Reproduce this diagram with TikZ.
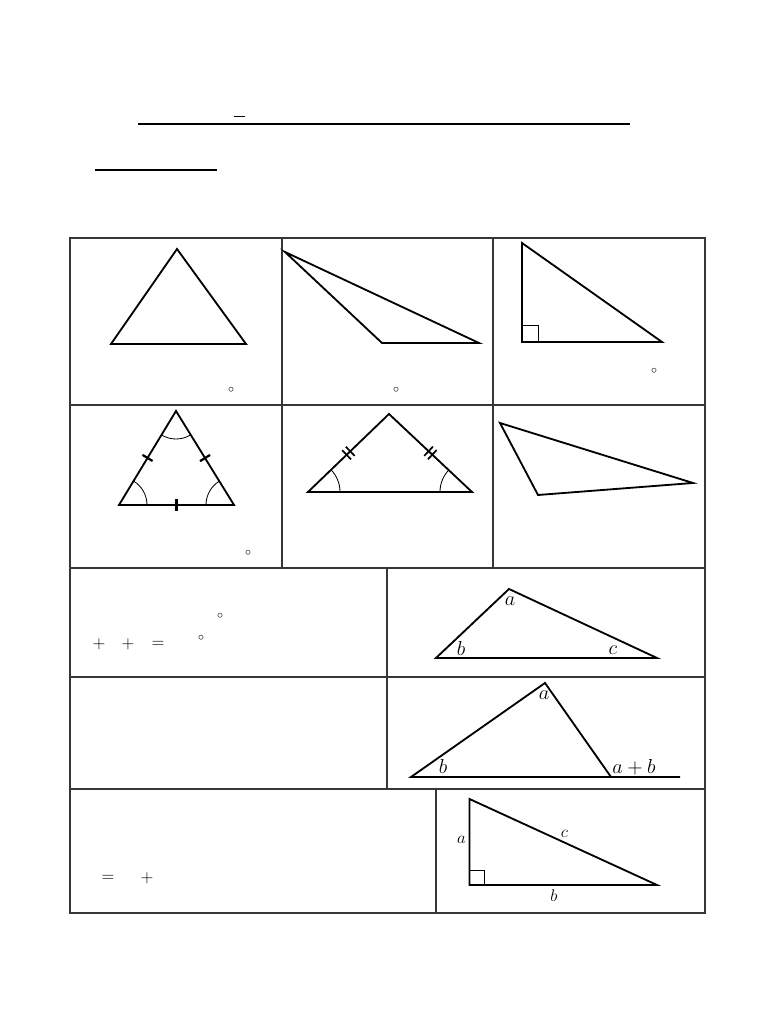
\documentclass[tikz,border=0pt]{standalone}
\usetikzlibrary{angles, calc, decorations.markings}
\definecolor{gridColor}{RGB}{55,55,55}
\definecolor{lineColor}{RGB}{0,0,0}

\begin{document}
\begin{tikzpicture}[
    x=0.025cm, y=0.025cm,
    tri/.style={draw=lineColor, line width=1.3pt, line join=miter},
    grid/.style={draw=gridColor, line width=0.9pt},
    arcmark/.style={draw=lineColor, line width=0.6pt},
    onetick/.style={postaction={decorate, decoration={markings, mark=at position 0.5 with {\draw[line width=1.6pt] (0,-4.2pt) -- (0,4.2pt);}}}},
    twotick/.style={postaction={decorate, decoration={markings, mark=at position 0.5 with {\draw[line width=1.2pt] (-1.8pt,-4.5pt) -- (-1.8pt,4.5pt) (1.8pt,-4.5pt) -- (1.8pt,4.5pt);}}}},
    deg/.style={font=\footnotesize, inner sep=0pt},
    sym/.style={font=\large, inner sep=0pt},
    lbl/.style={font=\Large, inner sep=0pt, anchor=base},
    smalllbl/.style={font=\large, inner sep=0pt, anchor=base}
]

\useasboundingbox (0,0) rectangle (768,1024);

% Heading rules
\draw[line width=1.4pt] (138,900) -- (630,900);
\draw[line width=0.6pt] (234,908) -- (245,908);
\draw[line width=1.4pt] (95,854) -- (217,854);

% Table frame and rows
\draw[grid] (70,111) rectangle (705,786);
\foreach \y in {619,456,347,235} {
    \draw[grid] (70,\y) -- (705,\y);
}
\draw[grid] (282,786) -- (282,456);
\draw[grid] (493,786) -- (493,456);
\draw[grid] (387,456) -- (387,235);
\draw[grid] (436,235) -- (436,111);

% Row 1: acute, obtuse, right
\coordinate (aT) at (177,775);
\coordinate (aL) at (111,680);
\coordinate (aR) at (246,680);
\draw[tri] (aL) -- (aR) -- (aT) -- cycle;

\coordinate (oA) at (285,772);
\coordinate (oB) at (382,681);
\coordinate (oC) at (479,681);
\draw[tri] (oA) -- (oB) -- (oC) -- cycle;

\coordinate (rT) at (522,781);
\coordinate (rC) at (522,682);
\coordinate (rR) at (662,682);
\draw[tri] (rT) -- (rC) -- (rR) -- cycle;
\draw[line width=0.7pt] (rC) rectangle ($(rC)+(16,16)$);

% Row 2: equilateral, isosceles, scalene
\coordinate (eT) at (176,613);
\coordinate (eL) at (119,519);
\coordinate (eR) at (234,519);
\draw[tri] (eL) -- (eR) -- (eT) -- cycle;
\path[onetick] (eL) -- (eR);
\path[onetick] (eR) -- (eT);
\path[onetick] (eT) -- (eL);
\pic[arcmark, angle radius=0.7cm] {angle = eR--eL--eT};
\pic[arcmark, angle radius=0.7cm] {angle = eT--eR--eL};
\pic[arcmark, angle radius=0.7cm] {angle = eL--eT--eR};

\coordinate (iT) at (389,610);
\coordinate (iL) at (308,532);
\coordinate (iR) at (472,532);
\draw[tri] (iL) -- (iR) -- (iT) -- cycle;
\path[twotick] (iL) -- (iT);
\path[twotick] (iT) -- (iR);
\pic[arcmark, angle radius=0.8cm] {angle = iR--iL--iT};
\pic[arcmark, angle radius=0.8cm] {angle = iT--iR--iL};

\coordinate (sA) at (500,601);
\coordinate (sB) at (538,529);
\coordinate (sC) at (693,541);
\draw[tri] (sA) -- (sB) -- (sC) -- cycle;

% Degree rings
\foreach \name/\x/\y in {d1/231/634, d2/396/634, d3/654/653, d4/248/471, d5/220/408, d6/201/386} {
    \node[deg] (\name) at (\x,\y) {$\circ$};
}

% Row 3: angle sum
\node[sym] (plusA) at (99,380) {$+$};
\node[sym] (plusB) at (128,380) {$+$};
\node[sym] (eqA) at (158,380) {$=$};

\coordinate (gT) at (509,435);
\coordinate (gL) at (436,366);
\coordinate (gR) at (657,366);
\draw[tri] (gL) -- (gR) -- (gT) -- cycle;
\node[lbl] (la) at (510,418) {$a$};
\node[lbl] (lb) at (461,368) {$b$};
\node[lbl] (lc) at (613,369) {$c$};

% Row 4: exterior angle
\coordinate (xT) at (545,341);
\coordinate (xL) at (411,247);
\coordinate (xR) at (611,247);
\coordinate (xE) at (680,247);
\draw[tri] (xE) -- (xL) -- (xT) -- (xR);
\node[lbl] (xa) at (544,324) {$a$};
\node[lbl] (xb) at (443,250) {$b$};
\node[lbl] (xab) at (634,250) {$a+b$};

% Row 5: Pythagoras
\node[sym] (eqB) at (108,146) {$=$};
\node[sym] (plusC) at (147,146) {$+$};

\coordinate (pT) at (469.5,225);
\coordinate (pC) at (469.5,139);
\coordinate (pR) at (657,139);
\draw[tri] (pT) -- (pC) -- (pR) -- cycle;
\draw[line width=0.7pt] (pC) rectangle ($(pC)+(15,15)$);
\node[smalllbl] (pa) at (461.5,180) {$a$};
\node[smalllbl] (pc) at (564.5,186) {$c$};
\node[smalllbl] (pb) at (554,122) {$b$};

\end{tikzpicture}
\end{document}
